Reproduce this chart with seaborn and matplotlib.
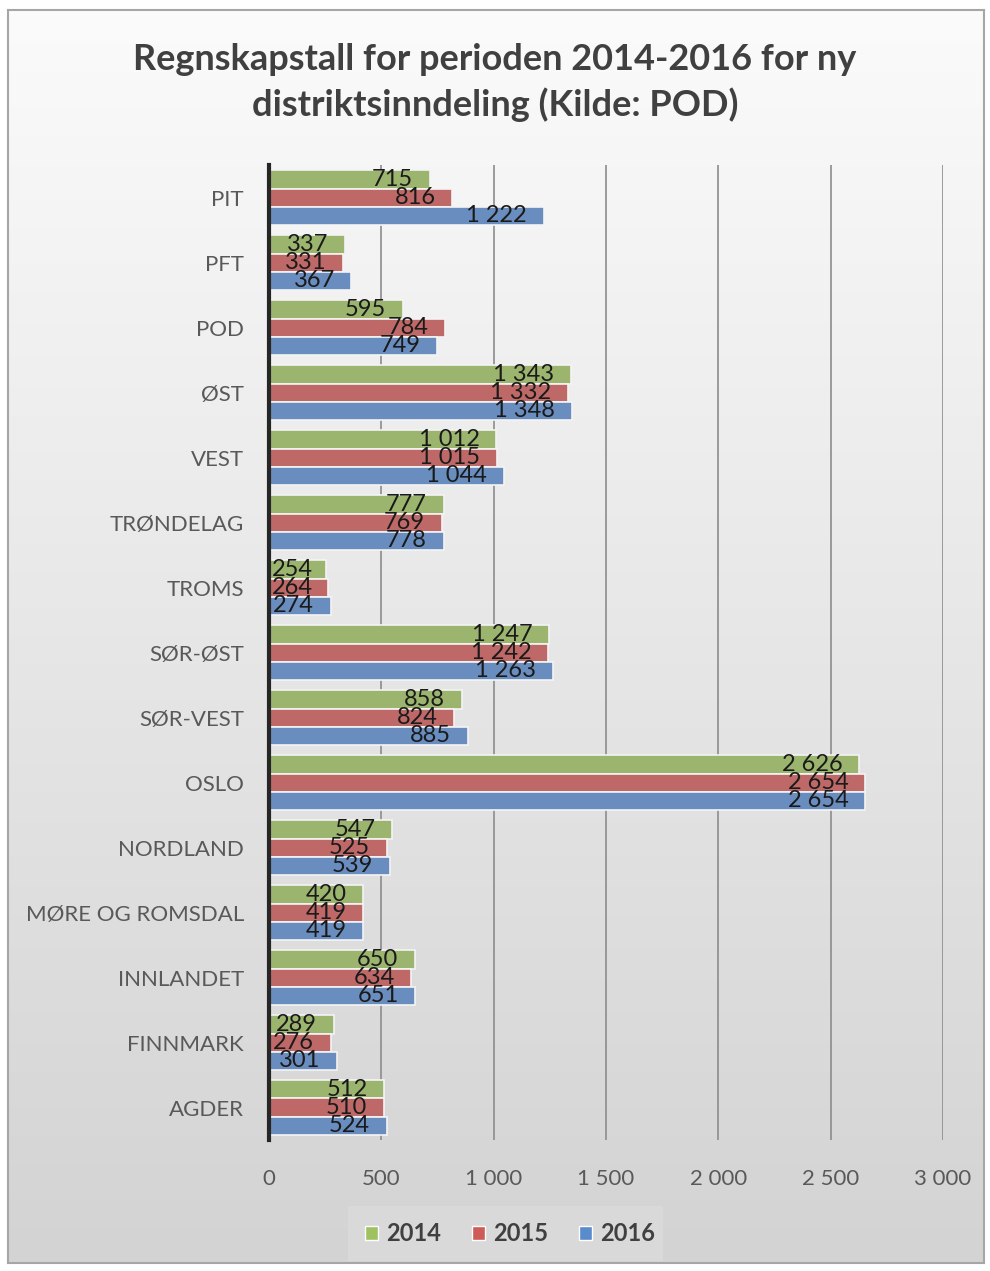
import numpy as np
import pandas as pd
import seaborn as sns
import matplotlib.pyplot as plt
from matplotlib.patches import Rectangle
from matplotlib.colors import LinearSegmentedColormap

# Data
districts = ["PIT", "PFT", "POD", "ØST", "VEST", "TRØNDELAG", "TROMS", "SØR-ØST",
             "SØR-VEST", "OSLO", "NORDLAND", "MØRE OG ROMSDAL", "INNLANDET",
             "FINNMARK", "AGDER"]
years = ["2014", "2015", "2016"]
v2014 = [715, 337, 595, 1343, 1012, 777, 254, 1247, 858, 2626, 547, 420, 650, 289, 512]
v2015 = [816, 331, 784, 1332, 1015, 769, 264, 1242, 824, 2654, 525, 419, 634, 276, 510]
v2016 = [1222, 367, 749, 1348, 1044, 778, 274, 1263, 885, 2654, 539, 419, 651, 301, 524]
xticks = [0, 500, 1000, 1500, 2000, 2500, 3000]

df = pd.DataFrame({
    "district": districts * 3,
    "year": [y for y in years for _ in districts],
    "value": v2014 + v2015 + v2016,
})

colors = {"2014": "#9fc162", "2015": "#cd5b58", "2016": "#5a8bcc"}


def fmt(v):
    return f"{int(v):,}".replace(",", " ")


sns.set_theme(style="white")
plt.rcParams["font.family"] = ["Lato", "DejaVu Sans"]

fig = plt.figure(figsize=(9.9, 12.71), dpi=100)
fig.patch.set_facecolor("white")

# gradient background panel
bg = fig.add_axes([0.008, 0.006, 0.986, 0.986], zorder=0)
grad = np.linspace(0, 1, 256).reshape(-1, 1)
bg.imshow(grad, aspect="auto", cmap=LinearSegmentedColormap.from_list(
    "g", ["#fbfbfb", "#d3d3d3"]), extent=[0, 1, 0, 1], origin="upper")
bg.set_xticks([]); bg.set_yticks([])
for s in bg.spines.values():
    s.set_color("#a6a6a6"); s.set_linewidth(1.5)

ax = fig.add_axes([0.2717, 0.103, 0.6808, 0.767], zorder=1)
ax.patch.set_alpha(0)

sns.barplot(data=df, y="district", x="value", hue="year", order=districts,
            hue_order=years, palette=colors, orient="h", width=0.84,
            edgecolor="#f4f4f4", linewidth=1.2, ax=ax, legend=False)

ax.set_xlim(0, 3000)
ax.set_ylim(14.5, -0.5)
ax.set_xticks(xticks)
ax.set_xticklabels([fmt(t) for t in xticks])
ax.xaxis.grid(True, color="#8c8c8c", linewidth=1.2)
ax.set_axisbelow(True)
ax.set_xlabel("")
ax.set_ylabel("")
for s in ["top", "right", "bottom"]:
    ax.spines[s].set_visible(False)
ax.spines["left"].set_color("#262626")
ax.spines["left"].set_linewidth(3)
ax.tick_params(axis="both", length=0, labelcolor="#595959")
ax.tick_params(axis="y", pad=18, labelsize=16)
ax.tick_params(axis="x", pad=21, labelsize=16)

# value labels: right aligned inside the bar end, kept inside the bar start
labels_all = []
for cont in ax.containers:
    anns = ax.bar_label(cont, labels=[fmt(v) for v in cont.datavalues], padding=-12,
                        fontsize=17, color="#1a1a1a", label_type="edge")
    for a in anns:
        a.set_ha("right")
    labels_all.extend(anns)

fig.canvas.draw()
renderer = fig.canvas.get_renderer()
x0_px = ax.transData.transform((0, 0))[0]
for a in labels_all:
    bb = a.get_window_extent(renderer)
    if bb.x0 < x0_px + 2:
        a.set_ha("left")
        a.xy = (0, a.xy[1])
        a.set_position((2, 0))

fig.text(0.5, 0.953, "Regnskapstall for perioden 2014-2016 for ny", ha="center",
         va="center", fontsize=26, fontweight="bold", color="#404040")
fig.text(0.5, 0.918, "distriktsinndeling (Kilde: POD)", ha="center",
         va="center", fontsize=26, fontweight="bold", color="#404040")

# legend
fig.patches.append(Rectangle((0.352, 0.008), 0.318, 0.043, transform=fig.transFigure,
                             facecolor="#d9d9d9", edgecolor="none", zorder=2))
handles = [Rectangle((0, 0), 1, 1, facecolor=colors[y], edgecolor="white") for y in years]
leg = fig.legend(handles, years, loc="center", bbox_to_anchor=(0.515, 0.0295), ncol=3,
                 frameon=False, prop={"weight": "bold", "size": 17}, handlelength=0.55,
                 handleheight=0.55, handletextpad=0.35, columnspacing=1.3)
for t in leg.get_texts():
    t.set_color("#404040")

fig.savefig("out.png", dpi=100)
